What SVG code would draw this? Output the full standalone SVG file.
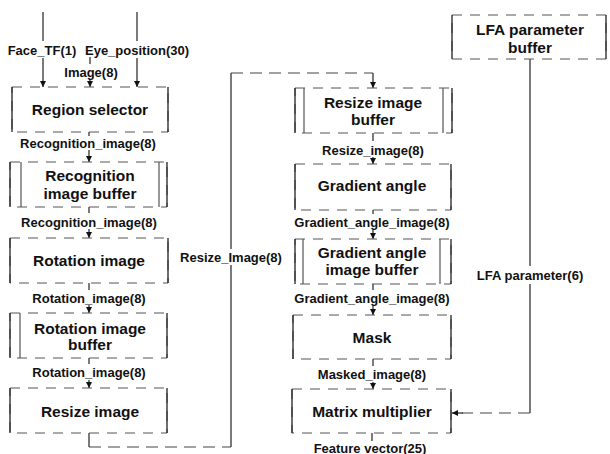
<svg xmlns="http://www.w3.org/2000/svg" width="610" height="454" viewBox="0 0 610 454">
<style>
.box{fill:#fff;stroke:#555;stroke-width:1;stroke-dasharray:10 8}
.side{stroke:#222;stroke-width:1.3;fill:none}
.inner{stroke:#555;stroke-width:1.2;fill:none}
.t{font-family:"Liberation Sans",Arial,sans-serif;font-weight:bold;font-size:15.5px;fill:#111;text-anchor:middle}
.l{font-family:"Liberation Sans",Arial,sans-serif;font-weight:bold;font-size:13px;fill:#111;text-anchor:middle}
.e{stroke:#222;stroke-width:1.2;fill:none}
.d{stroke:#444;stroke-width:1.1;fill:none;stroke-dasharray:12 7}
.ea{stroke:#222;stroke-width:1.2;fill:none;marker-end:url(#ah)}
</style>
<defs>
<marker id="ah" markerUnits="userSpaceOnUse" markerWidth="7" markerHeight="7" refX="6" refY="3" orient="auto">
<path d="M0,0 L6,3 L0,6 z" fill="#111"/>
</marker>
</defs>
<rect width="610" height="454" fill="#fff"/>

<g id="connectors">
<path class="e" d="M43,12 V41"/>
<path class="ea" d="M43,58 V87"/>
<path class="e" d="M137,12 V41"/>
<path class="ea" d="M137,58 V87"/>
<path class="e" d="M90,57 V64"/>
<path class="ea" d="M90,79 V87"/>
<path class="e" d="M89,132 V136"/>
<path class="ea" d="M89,150 V162"/>
<path class="e" d="M89,207 V213"/>
<path class="ea" d="M89,229 V238"/>
<path class="e" d="M89,283 V290"/>
<path class="ea" d="M89,305 V313"/>
<path class="e" d="M89,358 V364"/>
<path class="ea" d="M89,380 V388"/>
<path class="e" d="M89,433 V447"/>
<path class="d" d="M89,447 H231"/>
<path class="e" d="M231,447 V265"/>
<path class="e" d="M231,249 V73"/>
<path class="d" d="M231,73 H373"/>
<path class="ea" d="M373,73 V88"/>
<path class="e" d="M373,133 V141"/>
<path class="ea" d="M373,157 V164"/>
<path class="e" d="M373,210 V214"/>
<path class="ea" d="M373,230 V239"/>
<path class="e" d="M373,284 V290"/>
<path class="ea" d="M373,306 V315"/>
<path class="e" d="M373,359 V366"/>
<path class="ea" d="M373,382 V389"/>
<path class="e" d="M372,433 V441"/>
<path class="e" d="M530,59 V266"/>
<path class="e" d="M530,284 V413"/>
<path class="d" d="M530,413 H462"/>
<path class="ea" d="M463,413 H452"/>
<text class="l" x="42" y="54.7">Face_TF(1)</text>
<text class="l" x="137" y="54.7">Eye_position(30)</text>
<text class="l" x="91" y="76.7">Image(8)</text>
<text class="l" x="88" y="147.7">Recognition_image(8)</text>
<text class="l" x="89" y="226.7">Recognition_image(8)</text>
<text class="l" x="89" y="302.7">Rotation_image(8)</text>
<text class="l" x="89" y="376.7">Rotation_image(8)</text>
<text class="l" x="231" y="261.7">Resize_Image(8)</text>
<text class="l" x="373" y="154.7">Resize_image(8)</text>
<text class="l" x="372" y="226.7">Gradient_angle_image(8)</text>
<text class="l" x="372" y="302.7">Gradient_angle_image(8)</text>
<text class="l" x="372" y="378.7">Masked_image(8)</text>
<text class="l" x="370" y="452.5">Feature vector(25)</text>
<text class="l" x="530" y="279.7">LFA parameter(6)</text>
</g>

<g id="region-selector">
<rect class="box" x="12" y="87" width="156" height="45"/>
<path class="side" d="M12,87 V132 M168,87 V132"/>
<text class="t" x="90" y="114.5">Region selector</text>
</g>

<g id="recognition-image-buffer">
<rect class="box" x="10" y="162" width="157" height="45"/>
<path class="side" d="M10,162 V207 M167,162 V207"/>
<path class="inner" d="M21,162 V207 M159,162 V207"/>
<text class="t" x="90" y="180.5">Recognition</text>
<text class="t" x="90" y="198.5">image buffer</text>
</g>

<g id="rotation-image">
<rect class="box" x="10" y="238" width="158" height="45"/>
<path class="side" d="M10,238 V283 M168,238 V283"/>
<text class="t" x="89" y="265.5">Rotation image</text>
</g>

<g id="rotation-image-buffer">
<rect class="box" x="10" y="313" width="157" height="45"/>
<path class="side" d="M10,313 V358 M167,313 V358"/>
<path class="inner" d="M20,313 V358"/>
<text class="t" x="90" y="333.5">Rotation image</text>
<text class="t" x="90" y="349.5">buffer</text>
</g>

<g id="resize-image">
<rect class="box" x="10" y="388" width="157" height="45"/>
<path class="side" d="M10,388 V433 M167,388 V433"/>
<text class="t" x="90" y="416.5">Resize image</text>
</g>

<g id="resize-image-buffer">
<rect class="box" x="295" y="88" width="157" height="45"/>
<path class="side" d="M295,88 V133 M452,88 V133"/>
<path class="inner" d="M304,88 V133 M443,88 V133"/>
<text class="t" x="373" y="107.5">Resize image</text>
<text class="t" x="373" y="124.5">buffer</text>
</g>

<g id="gradient-angle">
<rect class="box" x="295" y="164" width="156" height="46"/>
<path class="side" d="M295,164 V210 M451,164 V210"/>
<text class="t" x="372" y="190.5">Gradient angle</text>
</g>

<g id="gradient-angle-image-buffer">
<rect class="box" x="295" y="239" width="156" height="45"/>
<path class="side" d="M295,239 V284 M451,239 V284"/>
<path class="inner" d="M303,239 V284 M440,239 V284"/>
<text class="t" x="372" y="257.5">Gradient angle</text>
<text class="t" x="372" y="274.5">image buffer</text>
</g>

<g id="mask">
<rect class="box" x="293" y="315" width="158" height="44"/>
<path class="side" d="M293,315 V359 M451,315 V359"/>
<text class="t" x="372" y="342.5">Mask</text>
</g>

<g id="matrix-multiplier">
<rect class="box" x="292" y="389" width="159" height="44"/>
<path class="side" d="M292,389 V433 M451,389 V433"/>
<text class="t" x="372" y="416.5">Matrix multiplier</text>
</g>

<g id="lfa-parameter-buffer">
<rect class="box" x="452" y="15" width="154" height="44"/>
<path class="side" d="M452,15 V59 M606,15 V59"/>
<text class="t" x="530" y="34.5">LFA parameter</text>
<text class="t" x="530" y="52.5">buffer</text>
</g>
</svg>
